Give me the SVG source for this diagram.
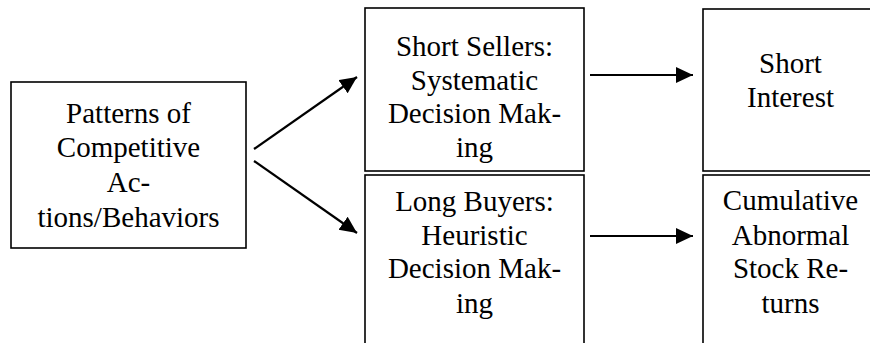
<svg xmlns="http://www.w3.org/2000/svg" width="870" height="343" viewBox="0 0 870 343">
<style>
.box{fill:#fff;stroke:#000;stroke-width:1.6}
.t{font-size:29px;fill:#000;text-anchor:middle}
.c{stroke:#000;stroke-width:2.2;fill:none;marker-end:url(#ah)}
</style>
<defs>
<marker id="ah" markerUnits="userSpaceOnUse" markerWidth="20" markerHeight="18" refX="17" refY="8" orient="auto">
<path d="M0,0 L17,8 L0,16 Z" fill="#000"/>
</marker>
</defs>
<rect width="870" height="343" fill="#fff"/>
<g font-family="'Liberation Serif', 'Times New Roman', Tinos, 'DejaVu Serif', serif">
<g id="n-patterns">
<rect class="box" x="11" y="82" width="235" height="166"/>
<text class="t" x="128.5" y="123">Patterns of</text>
<text class="t" x="128.5" y="157">Competitive</text>
<text class="t" x="128.5" y="192">Ac-</text>
<text class="t" x="128.5" y="227">tions/Behaviors</text>
</g>
<g id="n-short-sellers">
<rect class="box" x="365" y="8" width="219" height="163"/>
<text class="t" x="474.5" y="56">Short Sellers:</text>
<text class="t" x="474.5" y="90">Systematic</text>
<text class="t" x="474.5" y="123">Decision Mak-</text>
<text class="t" x="474.5" y="157">ing</text>
</g>
<g id="n-long-buyers">
<rect class="box" x="365" y="175" width="219" height="200"/>
<text class="t" x="474.5" y="211">Long Buyers:</text>
<text class="t" x="474.5" y="245">Heuristic</text>
<text class="t" x="474.5" y="278">Decision Mak-</text>
<text class="t" x="474.5" y="313">ing</text>
</g>
<g id="n-short-interest">
<rect class="box" x="703" y="9" width="200" height="162"/>
<text class="t" x="790.5" y="73">Short</text>
<text class="t" x="790.5" y="107">Interest</text>
</g>
<g id="n-car">
<rect class="box" x="703" y="175" width="200" height="200"/>
<text class="t" x="790.5" y="210">Cumulative</text>
<text class="t" x="790.5" y="245">Abnormal</text>
<text class="t" x="790.5" y="278">Stock Re-</text>
<text class="t" x="790.5" y="313">turns</text>
</g>
</g>
<g id="connectors">
<line class="c" x1="254" y1="149" x2="357" y2="77"/>
<line class="c" x1="254" y1="161" x2="357" y2="233"/>
<line class="c" x1="590" y1="75" x2="693" y2="75"/>
<line class="c" x1="590" y1="236" x2="693" y2="236"/>
</g>
</svg>
